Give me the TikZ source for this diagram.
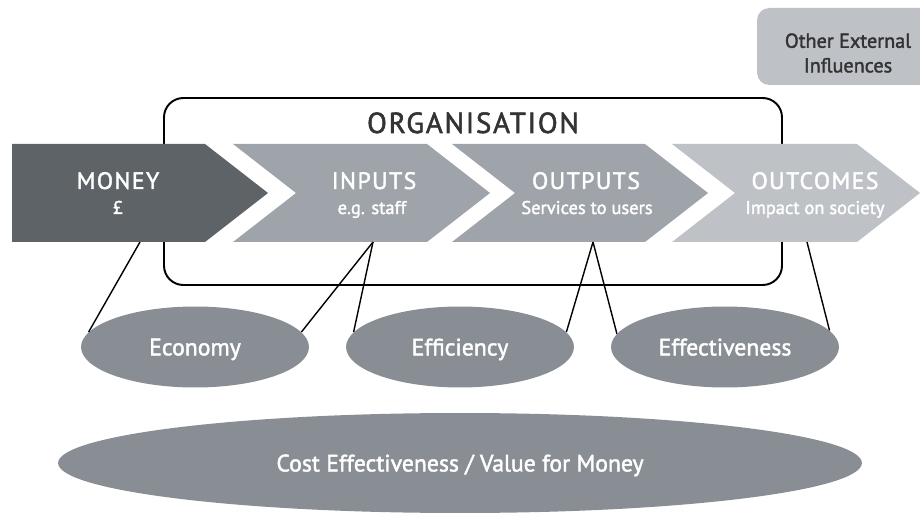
\documentclass[tikz,border=0pt]{standalone}
\usepackage{fontspec}
\setmainfont[FakeBold=1.8]{PT Sans}
\newfontfamily\spacedfont[LetterSpace=6,FakeBold=1.8]{PT Sans}
\usepackage{tikz}
\usetikzlibrary{shapes.geometric}

\definecolor{moneyGray}{HTML}{5E6367}
\definecolor{stageGray}{HTML}{9EA4A9}
\definecolor{paleGray}{HTML}{BEC2C7}
\definecolor{ovalGray}{HTML}{888E93}
\definecolor{labelDark}{HTML}{333333}

% one chevron of the chain: colour, left x, right x (pixel grid)
\newcommand{\drawStage}[3]{\fill [#1] (#2,144) -- (#3,144) -- ++(63,49) -- ++(-63,49) -- (#2,242) -- ++(63,-49) -- cycle}

\tikzset{
  stageTitle/.style={anchor=base, text=white, inner sep=0pt, font=\spacedfont\fontsize{13.5}{16}\selectfont},
  stageNote/.style={anchor=base, text=white, inner sep=0pt, font=\fontsize{10.5}{12}\selectfont},
  oval/.style={ellipse, fill=ovalGray, text=white, inner sep=0pt, text depth=0pt,
    minimum width=4.56cm, minimum height=1.62cm, font=\fontsize{13.5}{16}\selectfont},
  link/.style={black, line width=0.8pt},
}

\begin{document}
\begin{tikzpicture}[x=0.02cm, y=-0.02cm]
    \useasboundingbox (0,0) rectangle (920,513);
    \clip (0,0) rectangle (920,513);

    %other influences, runs off the right edge
    \fill [paleGray, rounded corners=7pt] (757,8) rectangle (960,85);
    \node (external) [align=center, text=labelDark, inner sep=0pt, font=\fontsize{11.5}{14}\selectfont] at (848,53) {Other External\\Influences};

    %organisation frame, sits behind the chain
    \draw [black, line width=1.1pt, rounded corners=11pt] (164,98) rectangle (782,285);
    \node (organisation) [anchor=base, text=labelDark, inner sep=0pt, font=\spacedfont\fontsize{16.5}{20}\selectfont] at (473,133) {ORGANISATION};

    %the chain
    \fill [moneyGray] (12,144) -- (205,144) -- ++(63,49) -- ++(-63,49) -- (12,242) -- cycle;
    \drawStage{stageGray}{233}{427};
    \drawStage{stageGray}{452}{645};
    \drawStage{paleGray}{672}{857};

    \node (moneyTitle) [stageTitle] at (118,189) {MONEY};
    \node (moneyNote) [stageNote] at (118,214) {£};
    \node (inputsTitle) [stageTitle] at (374,189) {INPUTS};
    \node (inputsNote) [stageNote] at (372,214) {e.g. staff};
    \node (outputsTitle) [stageTitle] at (586,189) {OUTPUTS};
    \node (outputsNote) [stageNote] at (587,214) {Services to users};
    \node (outcomesTitle) [stageTitle] at (815,189) {OUTCOMES};
    \node (outcomesNote) [stageNote] at (815,214) {Impact on society};

    \coordinate (moneyBase) at (140,242);
    \coordinate (inputsBase) at (373,242);
    \coordinate (outputsBase) at (593,242);
    \coordinate (outcomesBase) at (807,242);

    %the three E's
    \node (economy) [oval] at (195,347) {Economy};
    \node (efficiency) [oval] at (460,347) {Efficiency};
    \node (effectiveness) [oval] at (725,347) {Effectiveness};

    \node (valueForMoney) [oval, minimum width=16.08cm, minimum height=2cm] at (460,463) {Cost Effectiveness / Value for Money};

    %links
    \draw [link] (moneyBase) -- (economy.172);
    \draw [link] (inputsBase) -- (economy.8);
    \draw [link] (inputsBase) -- (efficiency.172);
    \draw [link] (outputsBase) -- (efficiency.8);
    \draw [link] (outputsBase) -- (effectiveness.173);
    \draw [link] (outcomesBase) -- (effectiveness.9);

\end{tikzpicture}
\end{document}
